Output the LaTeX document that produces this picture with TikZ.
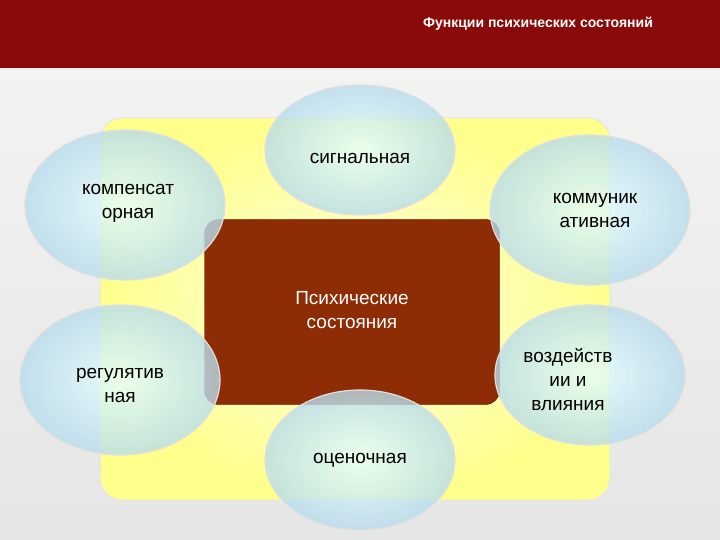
\documentclass[tikz,border=0pt]{standalone}
\usepackage{fontspec}
\setmainfont{Liberation Sans}
\usetikzlibrary{shapes.geometric}
\definecolor{corebrown}{HTML}{8E2C05}
\definecolor{bubout}{HTML}{B8DCEC}
\definecolor{barred}{HTML}{8A0A0A}
\begin{document}
\begin{tikzpicture}[x=1pt,y=-1pt,
  lbl/.style={font=\fontsize{19}{24}\selectfont,align=center,text=black}]
\useasboundingbox (0,0) rectangle (720,540);
\shade[top color=white!92!gray,bottom color=white!80!gray] (0,0) rectangle (720,540);
\fill[barred] (0,0) rectangle (720,68);
\node[text=white,font=\bfseries\fontsize{14}{17}\selectfont] (title) at (538,24) {Функции психических состояний};
\node[draw=white!80!gray,line width=1pt,rounded corners=22pt,inner color=yellow!10,outer color=yellow!45,minimum width=510,minimum height=382] (yel) at (355,309) {};
\node[rounded corners=14pt,fill=corebrown,minimum width=295,minimum height=185,draw=red!30!black] (core) at (352,312) {};
\node[lbl,text=white] (coretxt) at (352,310) {Психические\\состояния};
\begin{scope}[every node/.style={shape=ellipse,draw=white!75!gray,line width=1.2pt,inner color=white!90!cyan,outer color=bubout,fill opacity=0.8}]
\node[minimum width=190,minimum height=130] (e1) at (360,150) {};
\node[minimum width=200,minimum height=150] (e2) at (125,205) {};
\node[minimum width=200,minimum height=150] (e3) at (590,210) {};
\node[minimum width=200,minimum height=150] (e4) at (120,380) {};
\node[minimum width=190,minimum height=140] (e5) at (590,375) {};
\node[minimum width=190,minimum height=140] (e6) at (360,460) {};
\end{scope}
\node[lbl] (t1) at (360,158) {сигнальная};
\node[lbl] (t2) at (128,203) {компенсат\\орная};
\node[lbl] (t3) at (595,210) {коммуник\\ативная};
\node[lbl] (t4) at (120,385) {регулятив\\ная};
\node[lbl] (t5) at (568,380) {воздейств\\ии и\\влияния};
\node[lbl] (t6) at (360,460) {оценочная};
\end{tikzpicture}
\end{document}
